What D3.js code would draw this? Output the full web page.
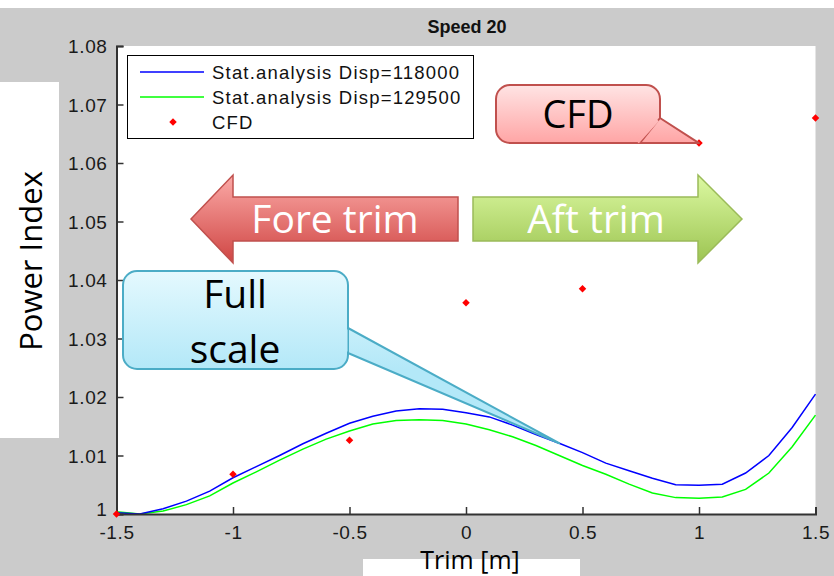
<!DOCTYPE html>
<html>
<head>
<meta charset="utf-8">
<script src="https://cdn.jsdelivr.net/npm/d3@7"></script>
<style>
  body { margin: 0; background: #fff; }
  svg { display: block; }
</style>
</head>
<body>
<div id="vis"></div>
<script>
// trim positions sampled along the stat. analysis curves
const trim = [-1.5, -1.4, -1.3, -1.2, -1.1, -1.0, -0.9, -0.8, -0.7, -0.6, -0.5,
              -0.4, -0.3, -0.2, -0.1, 0.0, 0.1, 0.2, 0.3, 0.4, 0.5,
              0.6, 0.7, 0.8, 0.9, 1.0, 1.1, 1.2, 1.3, 1.4, 1.5];
const disp118000 = [1.0002, 1.0000, 1.0009, 1.0022, 1.0039, 1.0062, 1.0081, 1.0100, 1.0120, 1.0138, 1.0155,
                    1.0167, 1.0176, 1.0180, 1.0179, 1.0173, 1.0166, 1.0152, 1.0136, 1.0121, 1.0105,
                    1.0087, 1.0074, 1.0061, 1.0050, 1.0049, 1.0051, 1.0070, 1.0100, 1.0148, 1.0205];
const disp129500 = [1.0004, 1.0000, 1.0005, 1.0016, 1.0031, 1.0053, 1.0072, 1.0092, 1.0111, 1.0128, 1.0142,
                    1.0154, 1.0160, 1.0161, 1.0160, 1.0154, 1.0144, 1.0132, 1.0117, 1.0100, 1.0083,
                    1.0068, 1.0051, 1.0036, 1.0028, 1.0027, 1.0029, 1.0042, 1.0070, 1.0115, 1.0169];
const cfdTrim = [-1.5, -1.0, -0.5, 0.0, 0.5, 1.0, 1.5];
const cfdPower = [1.0000, 1.0068, 1.0126, 1.0361, 1.0385, 1.0634, 1.0677];

const xTicks = [-1.5, -1, -0.5, 0, 0.5, 1, 1.5];
const xTickLabels = ["-1.5", "-1", "-0.5", "0", "0.5", "1", "1.5"];
const yTicks = [1.00, 1.01, 1.02, 1.03, 1.04, 1.05, 1.06, 1.07, 1.08];
const yTickLabels = ["1", "1.01", "1.02", "1.03", "1.04", "1.05", "1.06", "1.07", "1.08"];
const seriesNames = ["Stat.analysis Disp=118000", "Stat.analysis Disp=129500", "CFD"];

const W = 834, H = 576;
const svg = d3.select("#vis").append("svg").attr("width", W).attr("height", H);

const x = d3.scaleLinear().domain([-1.5, 1.5]).range([116.5, 815.5]);
const y = d3.scaleLinear().domain([1.0, 1.08]).range([514, 46]);

const defs = svg.append("defs");
function grad(id, y1, y2, c1, c2) {
  const g = defs.append("linearGradient").attr("id", id)
    .attr("gradientUnits", "userSpaceOnUse")
    .attr("x1", 0).attr("x2", 0).attr("y1", y1).attr("y2", y2);
  g.append("stop").attr("offset", 0).attr("stop-color", c1);
  g.append("stop").attr("offset", 1).attr("stop-color", c2);
}
grad("gFore", 175, 263, "#fbaaa7", "#cf4543");
grad("gAft", 175, 263, "#dcf9a2", "#9cc451");
grad("gCfd", 85, 143, "#ffe4e4", "#ffa5a5");
grad("gFull", 271, 369, "#e4f9fe", "#b3e8f8");

// figure background, with the white patches of the pasted slide
svg.append("rect").attr("width", W).attr("height", H).attr("fill", "#fff");
svg.append("rect").attr("x", 0).attr("y", 8).attr("width", W).attr("height", H - 8).attr("fill", "#cbcbcb");
svg.append("rect").attr("x", 0).attr("y", 82).attr("width", 59).attr("height", 356).attr("fill", "#fff");
svg.append("rect").attr("x", 363).attr("y", 559).attr("width", 217).attr("height", 17).attr("fill", "#fff");

// plot area
svg.append("rect")
  .attr("x", x(-1.5)).attr("y", y(1.08))
  .attr("width", x(1.5) - x(-1.5)).attr("height", y(1.0) - y(1.08))
  .attr("fill", "#fff");

svg.append("text")
  .attr("x", 467).attr("y", 33)
  .attr("text-anchor", "middle")
  .style("font-family", "'Liberation Sans Narrow', 'Liberation Sans', Arial, sans-serif")
  .style("font-weight", "bold").style("font-size", "18px")
  .attr("fill", "#111")
  .text("Speed 20");

// curves
const line = d3.line()
  .x(function(d) { return x(d[0]); })
  .y(function(d) { return y(d[1]); });

svg.append("path")
  .datum(d3.zip(trim, disp129500))
  .attr("d", line).attr("fill", "none")
  .attr("stroke", "#00ff00").attr("stroke-width", 1.5);

svg.append("path")
  .datum(d3.zip(trim, disp118000))
  .attr("d", line).attr("fill", "none")
  .attr("stroke", "#0000ff").attr("stroke-width", 1.5);

// axes (MATLAB style, ticks inward)
const tickFont = "'Liberation Sans', Arial, sans-serif";
const yAxis = svg.append("g")
  .attr("transform", "translate(" + x(-1.5) + ",0)")
  .call(d3.axisLeft(y).tickValues(yTicks).tickSize(-7).tickPadding(9)
    .tickFormat(function(d, i) { return yTickLabels[i]; }));
const xAxis = svg.append("g")
  .attr("transform", "translate(0," + y(1.0) + ")")
  .call(d3.axisBottom(x).tickValues(xTicks).tickSize(-7).tickPadding(11)
    .tickFormat(function(d, i) { return xTickLabels[i]; }));

[xAxis, yAxis].forEach(function(ax) {
  ax.select(".domain").attr("stroke", "#333").attr("stroke-width", 2);
  ax.selectAll(".tick line").attr("stroke", "#333").attr("stroke-width", 1.5);
  ax.selectAll(".tick text")
    .attr("fill", "#1a1a1a")
    .style("font-family", tickFont).style("font-size", "19px")
    .style("letter-spacing", "0.6px");
});
yAxis.selectAll(".tick text").attr("dy", function(d, i) { return i === 0 ? "0.1em" : "0.36em"; });
xAxis.selectAll(".tick text").attr("dy", "0.72em");

// CFD markers
const diamond = d3.symbol().type(d3.symbolDiamond2).size(36);
svg.selectAll(".cfd")
  .data(d3.zip(cfdTrim, cfdPower))
  .enter().append("path")
  .attr("class", "cfd")
  .attr("d", diamond)
  .attr("transform", function(d) { return "translate(" + x(d[0]) + "," + y(d[1]) + ")"; })
  .attr("fill", "#ff0000");

// legend
const leg = svg.append("g");
leg.append("rect").attr("x", 127.5).attr("y", 55.5).attr("width", 346).attr("height", 83)
  .attr("fill", "#fff").attr("stroke", "#000").attr("stroke-width", 1);
const legRows = [72, 97, 122];
leg.append("line").attr("x1", 140).attr("x2", 204).attr("y1", legRows[0]).attr("y2", legRows[0])
  .attr("stroke", "#0000ff").attr("stroke-width", 1.5);
leg.append("line").attr("x1", 140).attr("x2", 204).attr("y1", legRows[1]).attr("y2", legRows[1])
  .attr("stroke", "#00ff00").attr("stroke-width", 1.5);
leg.append("path").attr("d", diamond).attr("transform", "translate(173," + legRows[2] + ")")
  .attr("fill", "#ff0000");
leg.selectAll(".legtext")
  .data(seriesNames)
  .enter().append("text")
  .attr("x", 212).attr("y", function(d, i) { return legRows[i]; })
  .attr("dy", "0.36em")
  .attr("fill", "#111")
  .style("font-family", tickFont).style("font-size", "18.5px")
  .style("letter-spacing", "1.2px")
  .text(function(d) { return d; });

// axis titles
const slideFont = "'Open Sans', 'Noto Sans', sans-serif";
svg.append("text")
  .attr("transform", "translate(42,261) rotate(-90)")
  .attr("text-anchor", "middle")
  .style("font-family", slideFont).style("font-size", "31px")
  .attr("fill", "#000")
  .text("Power Index");
svg.append("text")
  .attr("x", 470).attr("y", 569)
  .attr("text-anchor", "middle")
  .style("font-family", slideFont).style("font-size", "25px")
  .attr("fill", "#000")
  .text("Trim [m]");

// direction arrows
svg.append("path")
  .attr("d", "M191,219 L233,175 L233,197 L458,197 L458,241 L233,241 L233,263 Z")
  .attr("fill", "url(#gFore)").attr("stroke", "#c0504d").attr("stroke-width", 1.5);
svg.append("path")
  .attr("d", "M742,219 L698,175 L698,197 L473,197 L473,241 L698,241 L698,263 Z")
  .attr("fill", "url(#gAft)").attr("stroke", "#9bbb59").attr("stroke-width", 1.5);
svg.append("text").attr("x", 335).attr("y", 233).attr("text-anchor", "middle")
  .style("font-family", slideFont).style("font-size", "39px").attr("fill", "#fff")
  .text("Fore trim");
svg.append("text").attr("x", 596).attr("y", 233).attr("text-anchor", "middle")
  .style("font-family", slideFont).style("font-size", "39px").attr("fill", "#fff")
  .text("Aft trim");

// callouts
function callout(bx, by, bw, bh, tail, fill, stroke) {
  const tip = tail[1];
  const g = svg.append("g");
  g.append("rect").attr("x", bx).attr("y", by).attr("width", bw).attr("height", bh)
    .attr("rx", 14).attr("fill", fill).attr("stroke", stroke).attr("stroke-width", 2);
  g.append("path")
    .attr("d", "M" + tail[0][0] + "," + tail[0][1] + " L" + tip[0] + "," + tip[1] +
               " L" + tail[2][0] + "," + tail[2][1] + " Z")
    .attr("fill", fill).attr("stroke", stroke).attr("stroke-width", 2).attr("stroke-linejoin", "round");
  // hide the seam between bubble and tail
  g.append("path")
    .attr("d", "M" + (tail[0][0] - 3) + "," + (tail[0][1] + 1.5) + " L" + (tail[2][0] - 3) + "," + (tail[2][1] - 1.5))
    .attr("stroke", fill).attr("stroke-width", 5);
  return g;
}

const cfdTip = [x(1), y(1.0634)];
const cfdBox = callout(496, 85, 164, 58, [[660, 118], cfdTip, [640, 143]], "url(#gCfd)", "#c0504d");
cfdBox.append("text").attr("x", 578).attr("y", 128).attr("text-anchor", "middle")
  .style("font-family", slideFont).style("font-size", "38px").attr("fill", "#000")
  .text("CFD");

const fullTip = [x(0.4), y(1.0121)];
const fullBox = callout(123, 271, 225, 98, [[348, 328], fullTip, [348, 353]], "url(#gFull)", "#4bacc6");
fullBox.append("text").attr("x", 235).attr("y", 308).attr("text-anchor", "middle")
  .style("font-family", slideFont).style("font-size", "39px").attr("fill", "#000")
  .text("Full");
fullBox.append("text").attr("x", 235).attr("y", 363).attr("text-anchor", "middle")
  .style("font-family", slideFont).style("font-size", "39px").attr("fill", "#000")
  .text("scale");
</script>
</body>
</html>
